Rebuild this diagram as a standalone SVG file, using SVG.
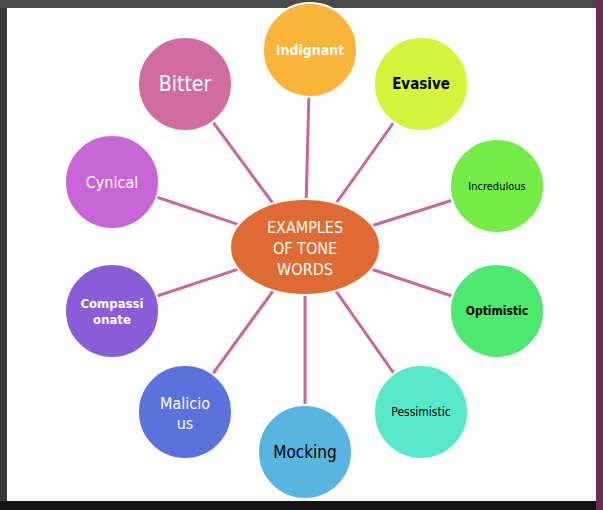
<svg xmlns="http://www.w3.org/2000/svg" width="603" height="510" viewBox="0 0 603 510">
<style>
.n{stroke:#fff;stroke-width:2}
text{font-family:"DejaVu Sans Condensed","DejaVu Sans",sans-serif;text-anchor:middle;dominant-baseline:central}
.w{fill:#fff}.b{fill:#000}
#links line{stroke:#cc6699;stroke-width:3}
</style>
<rect width="603" height="510" fill="#3a3a3a"/>
<rect width="603" height="8" fill="#4a4a4a"/>
<rect y="501" width="603" height="9" fill="#151515"/>
<rect x="596" width="7" height="510" fill="#6a2a5a"/>
<rect x="7" y="8" width="589" height="493" fill="#fff"/>
<g id="links">
<line x1="305" y1="247" x2="310" y2="50"/>
<line x1="305" y1="247" x2="185" y2="84"/>
<line x1="305" y1="247" x2="421" y2="84"/>
<line x1="305" y1="247" x2="112" y2="182"/>
<line x1="305" y1="247" x2="497" y2="186"/>
<line x1="305" y1="247" x2="112" y2="311"/>
<line x1="305" y1="247" x2="497" y2="311"/>
<line x1="305" y1="247" x2="185" y2="412"/>
<line x1="305" y1="247" x2="305" y2="452"/>
<line x1="305" y1="247" x2="421" y2="412"/>
</g>
<g id="indignant"><ellipse class="n" cx="310" cy="50" rx="47" ry="47" fill="#f9b43a"/><text class="w" x="310" y="50" font-size="14" font-weight="bold">Indignant</text></g>
<g id="bitter"><ellipse class="n" cx="185" cy="84" rx="47" ry="47" fill="#d06ca0"/><text class="w" x="185" y="84" font-size="21">Bitter</text></g>
<g id="evasive"><ellipse class="n" cx="421" cy="84" rx="47" ry="47" fill="#d4f43c"/><text class="b" x="421" y="84" font-size="15" font-weight="bold">Evasive</text></g>
<g id="cynical"><ellipse class="n" cx="112" cy="182" rx="47" ry="47" fill="#c865d6"/><text class="w" x="112" y="182" font-size="16">Cynical</text></g>
<g id="incredulous"><ellipse class="n" cx="497" cy="186" rx="47" ry="47" fill="#74ec48"/><text class="b" x="497" y="186" font-size="11">Incredulous</text></g>
<g id="compassionate"><ellipse class="n" cx="112" cy="311" rx="47" ry="47" fill="#8b5cd8"/><text class="w" x="112" y="303" font-size="13" font-weight="bold">Compassi</text><text class="w" x="112" y="319" font-size="13" font-weight="bold">onate</text></g>
<g id="optimistic"><ellipse class="n" cx="497" cy="311" rx="47" ry="47" fill="#4ce870"/><text class="b" x="497" y="311" font-size="12" font-weight="bold">Optimistic</text></g>
<g id="malicious"><ellipse class="n" cx="185" cy="412" rx="47" ry="47" fill="#5b72dd"/><text class="w" x="185" y="403" font-size="16">Malicio</text><text class="w" x="185" y="423" font-size="16">us</text></g>
<g id="mocking"><ellipse class="n" cx="305" cy="452" rx="47" ry="47" fill="#58b4e0"/><text class="b" x="305" y="452" font-size="17">Mocking</text></g>
<g id="pessimistic"><ellipse class="n" cx="421" cy="412" rx="47" ry="47" fill="#56e8c8"/><text class="b" x="421" y="412" font-size="12">Pessimistic</text></g>
<g id="center"><ellipse class="n" cx="305" cy="247" rx="75" ry="48" fill="#e06a34"/><text class="w" x="305" y="227" font-size="16">EXAMPLES</text><text class="w" x="305" y="248" font-size="16">OF TONE</text><text class="w" x="305" y="269" font-size="16">WORDS</text></g>
</svg>
